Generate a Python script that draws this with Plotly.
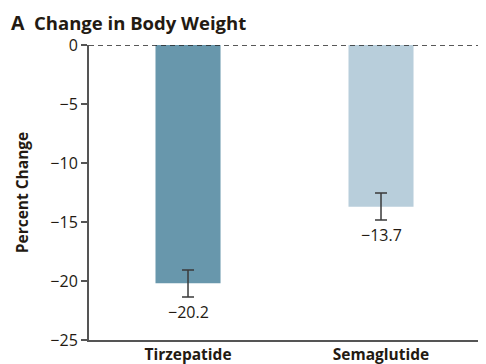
import plotly.graph_objects as go

categories = ["Tirzepatide", "Semaglutide"]
values = [-20.2, -13.7]
err_up = [1.13, 1.16]
err_down = [1.16, 1.13]
colors = ["#6897ac", "#b8cedb"]
value_labels = ["\u221220.2", "\u221213.7"]
tick_vals = [0, -5, -10, -15, -20, -25]
tick_text = ["0", "\u22125", "\u221210", "\u221215", "\u221220", "\u221225"]

font_family = "'Open Sans', 'Noto Sans', sans-serif"
text_color = "#231a12"

fig = go.Figure()
fig.add_trace(go.Bar(
    x=[0, 1], y=values, width=0.337,
    marker=dict(color=colors, line=dict(width=0)),
    error_y=dict(type="data", symmetric=False, array=err_up, arrayminus=err_down,
                 color="#3a3a3a", thickness=1.5, width=6),
    hoverinfo="skip",
))

for i, (v, lab) in enumerate(zip(values, value_labels)):
    fig.add_annotation(x=i, y=v - err_down[i], text=lab, showarrow=False,
                       yanchor="top", yshift=-2,
                       font=dict(family=font_family, size=16, color=text_color))

fig.add_shape(type="line", xref="paper", yref="y", x0=0, x1=1, y0=0, y1=0,
              line=dict(color="#222", width=1.3, dash="5px,4px"))

fig.add_annotation(xref="paper", yref="paper", x=-0.198, y=1.1254, xanchor="left", yanchor="top",
                   showarrow=False, borderpad=0,
                   text="<b><span style='font-size:19.5px'>A</span>&nbsp;&nbsp;Change in Body Weight</b>",
                   font=dict(family=font_family, size=18.5, color=text_color))

fig.update_layout(
    width=478, height=356,
    margin=dict(l=81, r=0, t=37, b=24),
    plot_bgcolor="white", paper_bgcolor="white",
    showlegend=False,
    xaxis=dict(range=[-0.513, 1.544], tickvals=[0, 1],
               ticktext=["<b>%s</b>" % c for c in categories],
               showline=True, linecolor="#555", linewidth=1.5,
               ticks="", showgrid=False, zeroline=False, automargin=False,
               tickfont=dict(family=font_family, size=15.5, color=text_color)),
    yaxis=dict(range=[-25, 0], tickvals=tick_vals, ticktext=tick_text,
               showline=True, linecolor="#555", linewidth=2,
               ticks="outside", ticklen=6, tickcolor="#555", tickwidth=1.5,
               showgrid=False, zeroline=False, automargin=False,
               title=dict(text="<b>Percent Change</b>", standoff=18,
                          font=dict(family=font_family, size=15.5, color=text_color)),
               tickfont=dict(family=font_family, size=16, color=text_color)),
)

fig.write_html("out.html")
